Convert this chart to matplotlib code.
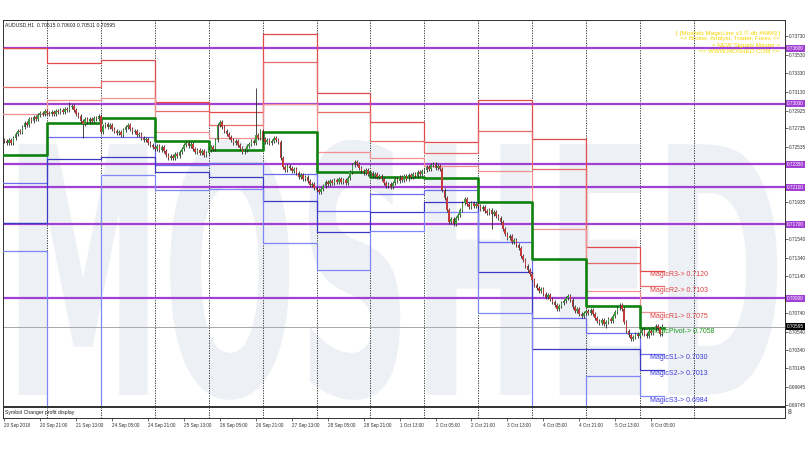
import matplotlib
matplotlib.use("Agg")
import matplotlib.pyplot as plt
from matplotlib.textpath import TextPath
from matplotlib.patches import PathPatch
from matplotlib.font_manager import FontProperties
from matplotlib.transforms import Affine2D, blended_transform_factory

plt.rcParams['font.family'] = ['Liberation Sans', 'DejaVu Sans']

# AUDUSD H1 closes, 20 Sep 2018 05:00 .. 8 Oct 10:00
closes = [
    0.72599, 0.72578, 0.72610, 0.72578, 0.72632, 0.72675, 0.72707, 0.72696, 0.72750, 0.72794,
    0.72772, 0.72837, 0.72815, 0.72858, 0.72837, 0.72880, 0.72902, 0.72891, 0.72923,
    0.72902, 0.72891, 0.72912, 0.72891, 0.72923, 0.72912, 0.72934, 0.72912, 0.72945, 0.72934,
    0.72966, 0.72977, 0.72934, 0.72891, 0.72869, 0.72815, 0.72783, 0.72837, 0.72804, 0.72837,
    0.72815, 0.72848, 0.72837, 0.72869,
    0.72696, 0.72761, 0.72783, 0.72750, 0.72772, 0.72729, 0.72707, 0.72686, 0.72696, 0.72664,
    0.72718, 0.72750, 0.72772, 0.72729, 0.72696, 0.72707, 0.72664, 0.72675, 0.72632, 0.72610,
    0.72621, 0.72578, 0.72556, 0.72534,
    0.72513, 0.72545, 0.72502, 0.72534, 0.72491, 0.72448, 0.72416, 0.72437, 0.72416, 0.72459,
    0.72437, 0.72480, 0.72513, 0.72556, 0.72578, 0.72545, 0.72567, 0.72513, 0.72480, 0.72502,
    0.72470, 0.72491, 0.72448, 0.72470,
    0.72502, 0.72534, 0.72513, 0.72610, 0.72772, 0.72804, 0.72750, 0.72707, 0.72675, 0.72642,
    0.72610, 0.72578, 0.72599, 0.72556, 0.72524, 0.72480, 0.72502, 0.72545, 0.72567, 0.72599,
    0.72578, 0.72664, 0.72632, 0.72707,
    0.72621, 0.72588, 0.72610, 0.72578, 0.72599, 0.72632, 0.72610, 0.72588, 0.72416, 0.72318,
    0.72286, 0.72329, 0.72308, 0.72275, 0.72297, 0.72254, 0.72210, 0.72232, 0.72189, 0.72210,
    0.72167, 0.72124, 0.72135, 0.72092,
    0.72070, 0.72048, 0.72081, 0.72113, 0.72156, 0.72135, 0.72167, 0.72146, 0.72178, 0.72156,
    0.72189, 0.72156, 0.72178, 0.72146, 0.72200, 0.72264, 0.72340, 0.72372, 0.72351, 0.72308,
    0.72275, 0.72254, 0.72286, 0.72243,
    0.72254, 0.72221, 0.72243, 0.72210, 0.72221, 0.72189, 0.72146, 0.72113, 0.72135, 0.72102,
    0.72146, 0.72189, 0.72167, 0.72210, 0.72178, 0.72221, 0.72189, 0.72232, 0.72210, 0.72243,
    0.72221, 0.72264, 0.72243, 0.72275,
    0.72286, 0.72318, 0.72297, 0.72340, 0.72351, 0.72308, 0.72329, 0.72297, 0.72070, 0.71984,
    0.71854, 0.71724, 0.71757, 0.71703, 0.71768, 0.71800, 0.71854, 0.71930, 0.71973, 0.71919,
    0.71886, 0.71930, 0.71897, 0.71919,
    0.71897, 0.71865, 0.71886, 0.71843, 0.71822, 0.71854, 0.71811, 0.71832, 0.71789, 0.71768,
    0.71724, 0.71649, 0.71595, 0.71552, 0.71573, 0.71508, 0.71530, 0.71476, 0.71444, 0.71358,
    0.71314, 0.71249, 0.71206, 0.71163,
    0.71098, 0.71044, 0.71012, 0.70979, 0.71001, 0.70947, 0.70915, 0.70936, 0.70893, 0.70860,
    0.70828, 0.70785, 0.70817, 0.70850, 0.70871, 0.70904, 0.70926, 0.70882, 0.70806, 0.70763,
    0.70785, 0.70731, 0.70709, 0.70742,
    0.70763, 0.70742, 0.70774, 0.70731, 0.70688, 0.70654, 0.70634, 0.70666, 0.70623, 0.70644,
    0.70677, 0.70654, 0.70709, 0.70752, 0.70796, 0.70828, 0.70785, 0.70644, 0.70547, 0.70504,
    0.70461, 0.70482, 0.70515, 0.70493,
    0.70526, 0.70558, 0.70515, 0.70493, 0.70547, 0.70526, 0.70569, 0.70601, 0.70580, 0.70515,
    0.70595,
]
first_open = 0.72610
wick = 0.00025
spike_high = {29: 0.73020, 112: 0.73172, 191: 0.72372, 274: 0.70850}
spike_low = {35: 0.72632, 217: 0.71649, 268: 0.70580}

# daily pivot levels (MagicPivot), one value per day
day_start = [0, 19, 43, 67, 91, 115, 139, 163, 187, 211, 235, 259, 283]
separators = [19, 43, 67, 91, 115, 139, 163, 187, 211, 235, 259, 283, 307]
r3 = [0.73607, 0.73438, 0.73474, 0.73024, 0.72909, 0.73752, 0.73114, 0.72804, 0.72592, 0.73042, 0.72621, 0.71449, 0.7120]
r2 = [0.73179, 0.73187, 0.73250, 0.72923, 0.72772, 0.73456, 0.72909, 0.72599, 0.72466, 0.72710, 0.72294, 0.71278, 0.7103]
r1 = [0.72888, 0.73042, 0.73060, 0.72700, 0.72635, 0.72996, 0.72484, 0.72412, 0.72332, 0.72275, 0.71649, 0.70982, 0.7075]
pivot = [0.72448, 0.72790, 0.72846, 0.72602, 0.72502, 0.72700, 0.72268, 0.72214, 0.72196, 0.71944, 0.71325, 0.70817, 0.7058]
s1 = [0.72142, 0.72646, 0.72646, 0.72340, 0.72358, 0.72243, 0.71843, 0.72027, 0.72073, 0.71512, 0.70684, 0.70522, 0.7030]
s2 = [0.71710, 0.72402, 0.72423, 0.72264, 0.72214, 0.71951, 0.71620, 0.71829, 0.71944, 0.71181, 0.70358, 0.70353, 0.7013]
s3 = [0.71414, 0.69500, 0.72232, 0.72070, 0.72081, 0.71494, 0.71206, 0.71627, 0.71832, 0.70745, 0.69600, 0.70056, 0.6984]

hlevels = [0.7360, 0.7300, 0.7235, 0.7210, 0.7170, 0.7090]
hlabels = ["0.73600", "0.73000", "0.72350", "0.72100", "0.71700", "0.70900"]
bid = 0.70595

ytick_vals = [0.73730, 0.73530, 0.73330, 0.73130, 0.72925, 0.72735, 0.72535, 0.72335, 0.72135, 0.71935,
              0.71740, 0.71540, 0.71340, 0.71140, 0.70940, 0.70740, 0.70540, 0.70340, 0.70145, 0.69945, 0.69745]
# labels that sit under a highlighted price box are left blank
hidden_ticks = [0.72335, 0.72135, 0.71740, 0.70940]
xtick_bars = list(range(0, 294, 16))
xtick_labels = ["20 Sep 2018", "20 Sep 21:00", "21 Sep 13:00", "24 Sep 05:00", "24 Sep 21:00",
                "25 Sep 13:00", "26 Sep 05:00", "26 Sep 21:00", "27 Sep 13:00", "28 Sep 05:00",
                "28 Sep 21:00", "1 Oct 13:00", "2 Oct 05:00", "2 Oct 21:00", "3 Oct 13:00",
                "4 Oct 05:00", "4 Oct 21:00", "5 Oct 13:00", "8 Oct 05:00"]

magic_names = ["MagicR3", "MagicR2", "MagicR1", "MagicPivot", "MagicS1", "MagicS2", "MagicS3"]
banner = ["[ [Mosheb MagicLine v3 \u00a9 db #MM!] ]",
          "=> Broker, Analyst, Trader, Forex <=",
          "= NEW Signals Master =",
          "=> WWW.MOSHED.COM <="]

fig = plt.figure(figsize=(8.1, 4.5), dpi=100)
ax = fig.add_axes([3/810, 44/450, 782/810, 386/450])
ax.set_xlim(-0.6, 347.6)
ax.set_ylim(0.69737, 0.73906)

# watermark
tp = TextPath((0, 0), "MOSHED", size=1, prop=FontProperties(family='DejaVu Sans', weight='bold'))
ext = tp.get_extents()
bx0, bx1, by0, by1 = 0.02, 0.99, 0.016, 0.69
tr = Affine2D().translate(-ext.x0, -ext.y0).scale((bx1 - bx0) / ext.width, (by1 - by0) / ext.height).translate(bx0, by0)
ax.add_patch(PathPatch(tr.transform_path(tp), transform=ax.transAxes, fc='#edf0f4', ec='none', zorder=0))

for b in separators:
    ax.axvline(b, color='#202020', lw=0.6, ls=(0, (1.5, 1.5)), zorder=1)

for v in hlevels:
    ax.axhline(v, color='#a23fd4', lw=1.6, zorder=2)
ax.axhline(bid, color='#a8a8a8', lw=0.7, zorder=2)

xs = [-0.6] + day_start[1:] + [293.5]
styles = [(r3, '#e24a4a', 0.9), (r2, '#e56a6a', 0.9), (r1, '#f09090', 0.9),
          (s1, '#6c6cf0', 0.9), (s2, '#3a3ac4', 0.9), (s3, '#7d88f4', 0.9),
          (pivot, '#0f820f', 1.9)]
for vals, col, lw in styles:
    ax.plot(xs, vals + [vals[-1]], drawstyle='steps-post', color=col, lw=lw, zorder=3)

# magic labels for the current day
label_cols = ['#e04040', '#e04040', '#e04040', '#1a9a1a', '#3a3ae0', '#3a3ae0', '#3a3ae0']
cur = [r3[-1], r2[-1], r1[-1], pivot[-1], s1[-1], s2[-1], s3[-1]]
for name, v, col in zip(magic_names, cur, label_cols):
    ax.text(287.6, v - 0.00005, f"{name}-> {v:.4f}", color=col, fontsize=5, va='top', ha='left', zorder=3)

# candles
opens = [first_open] + closes[:-1]
for i, (o, c) in enumerate(zip(opens, closes)):
    hi = spike_high.get(i, max(o, c) + wick)
    lo = spike_low.get(i, min(o, c) - wick)
    ax.vlines(i, lo, hi, color='#2a2a2a', lw=0.6, zorder=4)
    col = '#3c9a3c' if c >= o else '#c23a3a'
    ax.bar(i, max(abs(c - o), 0.00004), bottom=min(o, c), width=0.7, color=col, lw=0, zorder=5)

ax.text(0.003, 0.993, "AUDUSD,H1  0.70515 0.70603 0.70511 0.70595", transform=ax.transAxes,
        fontsize=3.7, va='top', ha='left', color='#202020', zorder=6)
for k, line in enumerate(banner):
    ax.text(0.9935, 0.974 - k * 0.0165, line, transform=ax.transAxes, fontsize=4.5,
            va='top', ha='right', color='#f5d400', zorder=6)

ax.set_xticks([])
ax.yaxis.tick_right()
ax.set_yticks(ytick_vals, ["" if v in hidden_ticks else f"{v:.5f}" for v in ytick_vals])
ax.tick_params(axis='y', direction='out', length=2, width=0.5, pad=1, labelsize=3.4, colors='#303030')
for sp in ax.spines.values():
    sp.set_linewidth(0.7)
    sp.set_color('#303030')

bt = blended_transform_factory(ax.transAxes, ax.transData)
for v, t in zip(hlevels, hlabels):
    ax.text(1.003, v, t, transform=bt, fontsize=3.4, color='white', va='center', ha='left', clip_on=False,
            bbox=dict(boxstyle='square,pad=0.2', fc='#a23fd4', ec='none'), zorder=7)
ax.text(1.003, bid, f"{bid:.5f}", transform=bt, fontsize=3.4, color='white', va='center', ha='left',
        clip_on=False, bbox=dict(boxstyle='square,pad=0.2', fc='black', ec='none'), zorder=7)

# indicator subwindow
ax2 = fig.add_axes([3/810, 32/450, 782/810, 11/450])
ax2.set_xlim(-0.6, 347.6)
ax2.set_ylim(0, 1)
ax2.set_yticks([])
for b in separators:
    ax2.axvline(b, color='#202020', lw=0.6, ls=(0, (1.5, 1.5)))
ax2.text(0.003, 0.5, "Symbol Changer profit display", transform=ax2.transAxes, fontsize=3.7,
         va='center', ha='left', color='#202020')
ax2.text(1.003, 0.5, "8", transform=ax2.transAxes, fontsize=5, va='center', ha='left', color='#303030')
ax2.set_xticks(xtick_bars, xtick_labels)
for lbl in ax2.get_xticklabels():
    lbl.set_ha('left')
ax2.tick_params(axis='x', direction='out', length=2.5, width=0.5, pad=1.2, labelsize=3.3, colors='#303030')
for sp in ax2.spines.values():
    sp.set_linewidth(0.7)
    sp.set_color('#303030')

fig.savefig("out.png", dpi=100, facecolor='white')
